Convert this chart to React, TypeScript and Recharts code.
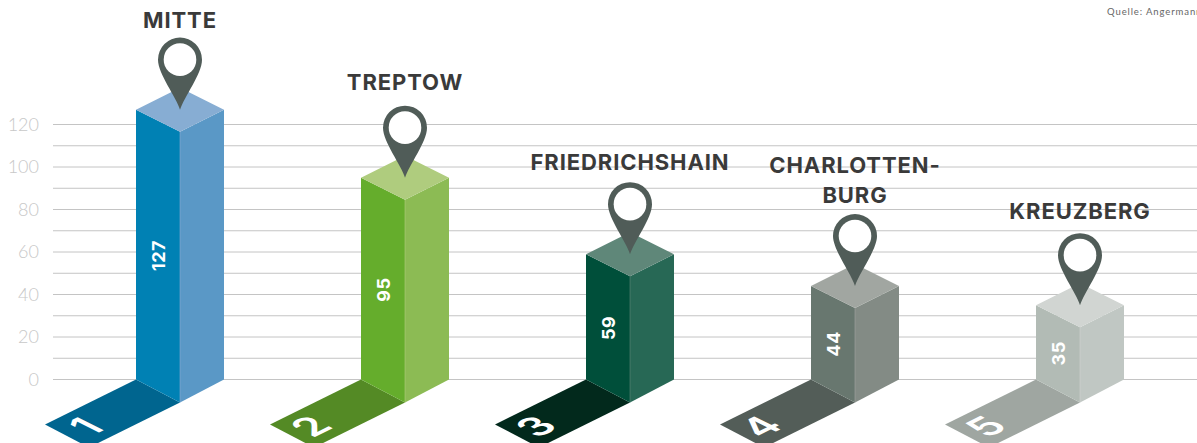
import { BarChart, Bar, CartesianGrid, XAxis, YAxis } from 'recharts';

// ── Data ──────────────────────────────────────────────────────────────────────

const districts = ['MITTE', 'TREPTOW', 'FRIEDRICHSHAIN', 'CHARLOTTEN-|BURG', 'KREUZBERG'];
const values = [127, 95, 59, 44, 35];
const ranks = ['1', '2', '3', '4', '5'];
const yTicks = [0, 10, 20, 30, 40, 50, 60, 70, 80, 90, 100, 110, 120];

const leftColors = ['#0081b4', '#65ad2c', '#004f3a', '#68776f', '#b2bbb5'];
const rightColors = ['#5a98c6', '#8cbb54', '#276855', '#838b85', '#c0c7c3'];
const topColors = ['#87add3', '#afcc7e', '#5f8779', '#a1a6a1', '#d1d5d2'];
const floorColors = ['#00658f', '#548a25', '#02291c', '#535d58', '#9fa6a1'];

// distance from the column top to the last line of each district name
const nameLift = [82, 88, 84, 83, 86];

const chartData = districts.map((name, i) => ({ name, value: values[i], rank: ranks[i] }));

const HEADING_FONT = 'Inter, sans-serif';
const LIGHT_FONT = 'Lato, sans-serif';
const PIN_COLOR = '#505c58';

// ── 3D column with floor plate, pin and labels ────────────────────────────────

function Column(props: any) {
  const { x, y, width, height, index, payload } = props;
  const half = width / 2;
  const rise = half / 2;
  const cx = x + half;
  const base = y + height;
  const lines: string[] = payload.name.split('|');
  const lastBaseline = y - nameLift[index];

  return (
    <g>
      <polygon
        points={`${x},${base} ${cx},${base + rise + 1} ${cx - 91},${base + rise + 1 + 45} ${x - 91},${base + 45}`}
        fill={floorColors[index]}
      />
      <text
        transform={`matrix(0.894,-0.447,0.894,0.447,${cx - 94},${base + 47})`}
        y={14}
        textAnchor="middle"
        fontFamily={HEADING_FONT}
        fontWeight={600}
        fontSize={40}
        fill="#fff"
      >
        {payload.rank}
      </text>
      <polygon points={`${cx},${y + rise} ${x + width},${y} ${x + width},${base} ${cx},${base + rise + 1}`} fill={rightColors[index]} />
      <polygon points={`${x},${y} ${cx},${y + rise} ${cx},${base + rise + 1} ${x},${base}`} fill={leftColors[index]} />
      <polygon points={`${x},${y} ${cx},${y - rise} ${x + width},${y} ${cx},${y + rise}`} fill={topColors[index]} />
      <line x1={cx} y1={y + rise} x2={cx} y2={base + rise + 1} stroke={topColors[index]} strokeWidth={0.6} />
      <text
        transform={`translate(${x + 22},${(y + rise / 2 + base + rise / 2) / 2}) rotate(-90)`}
        textAnchor="middle"
        dy={6.5}
        fontFamily={HEADING_FONT}
        fontWeight={700}
        fontSize={18}
        letterSpacing={0.5}
        fill="#fff"
      >
        {payload.value}
      </text>
      <path
        d={`M${cx} ${y} C${cx - 4} ${y - 13} ${cx - 22} ${y - 36} ${cx - 22} ${y - 50} A22 22 0 1 1 ${cx + 22} ${y - 50} C${cx + 22} ${y - 36} ${cx + 4} ${y - 13} ${cx} ${y} Z`}
        fill={PIN_COLOR}
      />
      <circle cx={cx} cy={y - 50} r={16.3} fill="#fff" />
      {lines.map((line, i) => (
        <text
          key={line}
          x={cx}
          y={lastBaseline - (lines.length - 1 - i) * 30}
          textAnchor="middle"
          fontFamily={HEADING_FONT}
          fontWeight={700}
          fontSize={22}
          letterSpacing={0.9}
          fill="#3a3a3a"
        >
          {line}
        </text>
      ))}
    </g>
  );
}

// ── Chart ─────────────────────────────────────────────────────────────────────

export default function App() {
  return (
    <div style={{ position: 'absolute', left: 0, top: 0, width: 1197, height: 443, overflow: 'hidden' }}>
      <BarChart width={1197} height={443} data={chartData} margin={{ top: 0, right: 0, bottom: 0, left: 0 }}>
        <CartesianGrid stroke="#c4c4c4" vertical={false} syncWithTicks />
        <XAxis dataKey="name" hide padding={{ left: 14, right: 5 }} />
        <YAxis
          width={53}
          domain={[-29.88, 178.59]}
          ticks={yTicks}
          interval={0}
          axisLine={false}
          tickLine={false}
          tickSize={0}
          tickMargin={14}
          tickFormatter={(v: number) => (v % 20 === 0 ? String(v) : '')}
          tick={{ fill: '#c8c8c8', fontSize: 18, fontFamily: LIGHT_FONT, fontWeight: 300 }}
        />
        <Bar dataKey="value" barSize={88} shape={Column} isAnimationActive={false} />
        <text x={1107} y={15} fontFamily={LIGHT_FONT} fontWeight={400} fontSize={9.5} letterSpacing={0.9} fill="#666">
          Quelle: Angermann
        </text>
      </BarChart>
    </div>
  );
}
